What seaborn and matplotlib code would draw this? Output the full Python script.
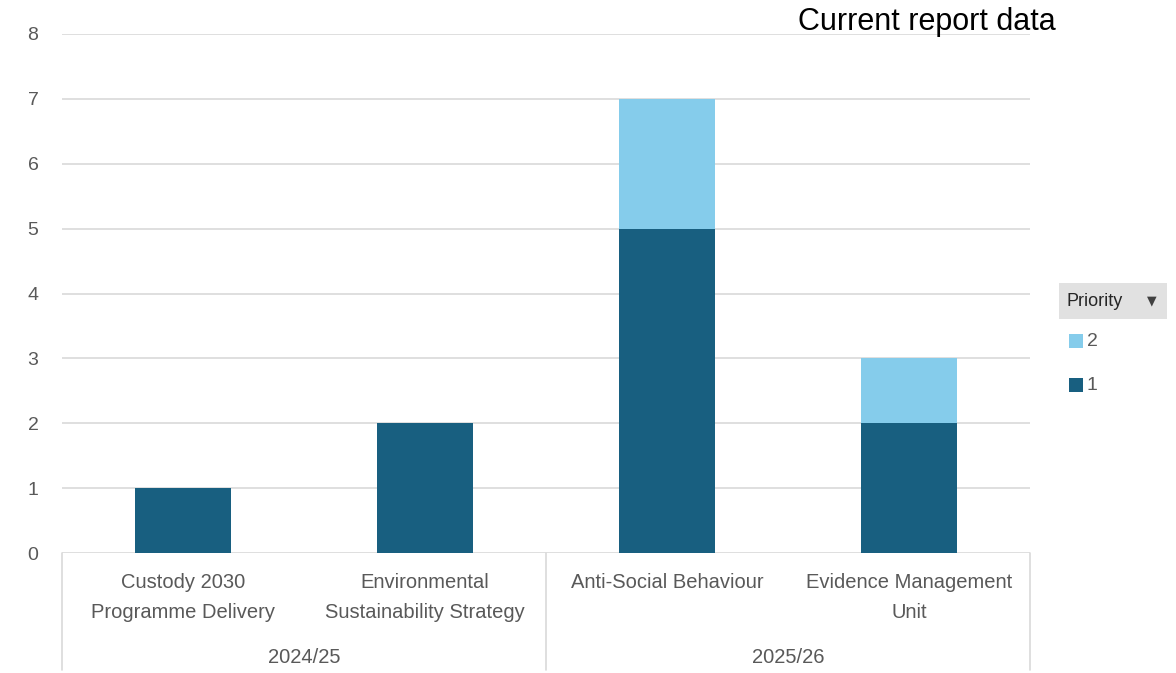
import matplotlib
matplotlib.use("Agg")
import matplotlib.pyplot as plt
import seaborn as sns
import pandas as pd
from matplotlib.patches import Rectangle

# data
categories = ["Custody 2030\nProgramme Delivery", "Environmental\nSustainability Strategy",
              "Anti-Social Behaviour", "Evidence Management\nUnit"]
groups = ["2024/25", "2025/26"]
group_of_cat = ["2024/25", "2024/25", "2025/26", "2025/26"]
priority_1 = [1, 2, 5, 2]
priority_2 = [0, 0, 2, 1]
y_ticks = [0, 1, 2, 3, 4, 5, 6, 7, 8]

DARK = "#185F80"
LIGHT = "#85CCEB"
GREY_TXT = "#595959"
GRID = "#D9D9D9"

sns.set_style("white")
plt.rcParams["font.family"] = ["Liberation Sans", "DejaVu Sans"]

df = pd.DataFrame({"category": categories, "group": group_of_cat,
                   "p1": priority_1, "p2": priority_2})
df["total"] = df["p1"] + df["p2"]

W, H = 1176, 673
fig = plt.figure(figsize=(W / 100, H / 100), dpi=100)
ax = fig.add_axes([62 / W, 1 - 553 / H, (1030 - 62) / W, (553 - 34) / H])

# stacked bars: total in light, priority 1 on top in dark
sns.barplot(data=df, x="category", y="total", color=LIGHT, width=0.4,
            saturation=1, linewidth=0, ax=ax, zorder=2)
sns.barplot(data=df, x="category", y="p1", color=DARK, width=0.4,
            saturation=1, linewidth=0, ax=ax, zorder=3)

ax.set_xlim(-0.5, len(categories) - 0.5)
ax.set_ylim(0, 8)
ax.set_yticks(y_ticks)
ax.yaxis.grid(True, color=GRID, linewidth=1.2, zorder=0)
ax.set_axisbelow(True)
for s in ax.spines.values():
    s.set_visible(False)
ax.tick_params(axis="y", length=0, pad=17, labelsize=14, labelcolor=GREY_TXT)
ax.set_xticks([])
ax.set_xlabel("")
ax.set_ylabel("")

# category labels and group labels below the axis
tr = ax.get_xaxis_transform()
narrow = ["Liberation Sans Narrow", "Liberation Sans", "DejaVu Sans"]
for i, cat in enumerate(categories):
    ax.text(i, -0.038, cat, transform=tr, ha="center", va="top", fontsize=14.5,
            color=GREY_TXT, linespacing=1.75, family=narrow)
for j, g in enumerate(groups):
    ax.text(2 * j + 0.5, -0.202, g, transform=tr, ha="center", va="center",
            fontsize=14.5, color=GREY_TXT, family=narrow)
for xv in [-0.5, 1.5, 3.5]:
    ax.plot([xv, xv], [0, -0.225], transform=tr, color=GRID, linewidth=1.2,
            clip_on=False)

# title
fig.text(1056 / W, 1 - 22 / H, "Current report data", ha="right", va="center",
         fontsize=22, color="black")

# legend (pivot style)
fig.patches.append(Rectangle((1059 / W, 1 - 319 / H), 108 / W, 36 / H,
                             transform=fig.transFigure, facecolor="#E1E1E1",
                             edgecolor="none"))
fig.text(1066 / W, 1 - 302 / H, "Priority", ha="left", va="center",
         fontsize=13, color="#262626")
fig.text(1152 / W, 1 - 301 / H, "\u25BC", ha="center", va="center",
         fontsize=9, color="#404040", family="DejaVu Sans")
for label, col, yc in [("2", LIGHT, 341), ("1", DARK, 385)]:
    fig.patches.append(Rectangle((1069 / W, 1 - (yc + 7) / H), 14 / W, 14 / H,
                                 transform=fig.transFigure, facecolor=col,
                                 edgecolor="none"))
    fig.text(1087 / W, 1 - yc / H, label, ha="left", va="center",
             fontsize=14, color=GREY_TXT)

fig.savefig("out.png", dpi=100)
